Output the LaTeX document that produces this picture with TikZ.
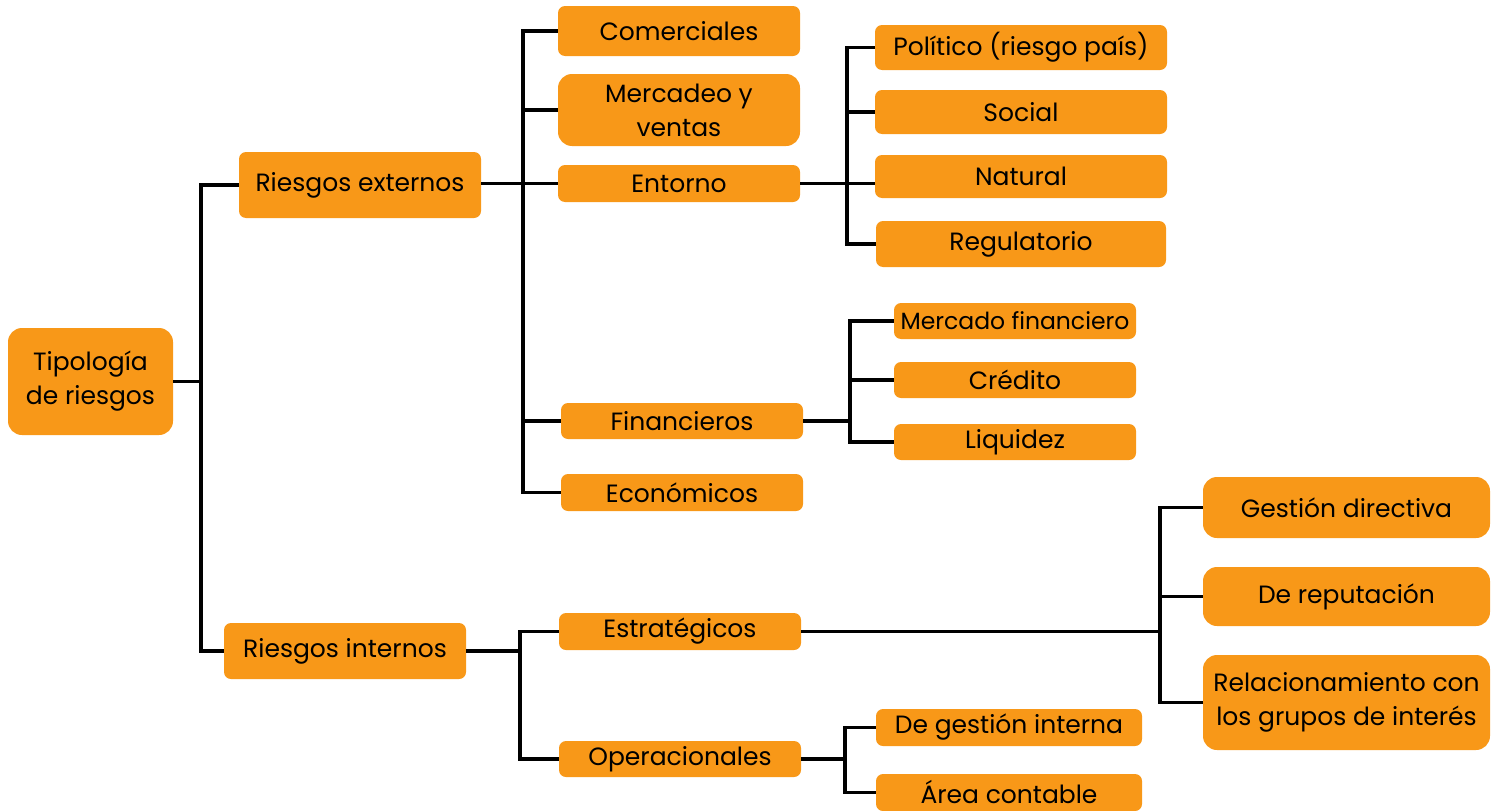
\documentclass[tikz,border=0pt]{standalone}
\usepackage{fontspec}
\setmainfont{Poppins}
\definecolor{boxorange}{RGB}{248,152,24}
\tikzset{
  box/.style={fill=boxorange, rounded corners=7pt, inner sep=0pt, align=center,
    font=\fontsize{25}{34}\selectfont, text=black},
  bigbox/.style={box, rounded corners=14pt},
  conn/.style={draw=black, line width=3.4pt}
}
\newcommand{\bx}[6][box]{\node[#1, minimum width=#4pt, minimum height=#5pt] (#2) at (#3) {#6};}
\begin{document}
\begin{tikzpicture}[x=1pt,y=-1pt]
\useasboundingbox (0,0) rectangle (1497,811);
% level 0-1
\bx[bigbox]{tip}{90.5,381.5}{165}{107}{Tipología\\de riesgos}
\bx{rext}{360,185}{242}{66}{Riesgos externos}
\bx{rint}{345,651}{242}{56}{Riesgos internos}
% level 2 externos
\bx{com}{679,31}{242}{50}{Comerciales}
\bx[bigbox]{mer}{679,110}{242}{72}{Mercadeo y\\ventas}
\bx{ent}{679,183.5}{242}{37}{Entorno}
\bx{fin}{682,421}{242}{36}{Financieros}
\bx{eco}{682,492.5}{242}{37}{Económicos}
% entorno
\bx{pol}{1021,47.5}{292}{45}{Político (riesgo país)}
\bx{soc}{1021,112}{292}{44}{Social}
\bx{nat}{1021,176.5}{292}{43}{Natural}
\bx{reg}{1021,244}{290}{46}{Regulatorio}
% financieros
\bx[box, font=\fontsize{23.5}{30}\selectfont]{mfi}{1015,321}{242}{36}{Mercado financiero}
\bx{cre}{1015,380}{242}{36}{Crédito}
\bx{liq}{1015,442}{242}{36}{Liquidez}
% internos
\bx{est}{680,631.5}{242}{37}{Estratégicos}
\bx{ope}{680,759}{242}{36}{Operacionales}
\bx[bigbox]{ges}{1346.5,507.5}{287}{61}{Gestión directiva}
\bx[bigbox]{rep}{1346.5,596.5}{287}{59}{De reputación}
\bx[bigbox]{rel}{1346.5,702.5}{287}{95}{Relacionamiento con\\los grupos de interés}
\bx{gin}{1009,727.5}{266}{37}{De gestión interna}
\bx{are}{1009,792.5}{266}{37}{Área contable}
% buses
\coordinate (b1) at (201,0);
\coordinate (b2) at (523,0);
\coordinate (b3) at (847,0);
\coordinate (b4) at (850,0);
\coordinate (b5) at (520,0);
\coordinate (b6) at (1160,0);
\coordinate (b7) at (845,0);
% connectors
\draw[conn] (tip.east) -- (tip.east -| b1);
\draw[conn] (rext.west) -| (b1 |- rint.west) -- (rint.west);
\draw[conn] (rext.east |- ent.west) -- (ent.west);
\draw[conn] (com.west) -| (b2 |- eco.west) -- (eco.west);
\draw[conn] (b2 |- mer.west) -- (mer.west);
\draw[conn] (b2 |- fin.west) -- (fin.west);
\draw[conn] (ent.east) -- (nat.west |- ent.east);
\draw[conn] (pol.west) -| (b3 |- reg.west) -- (reg.west);
\draw[conn] (b3 |- soc.west) -- (soc.west);
\draw[conn] (fin.east) -- (fin.east -| b4);
\draw[conn] (mfi.west) -| (b4 |- liq.west) -- (liq.west);
\draw[conn] (b4 |- cre.west) -- (cre.west);
\draw[conn] (rint.east) -- (b5 |- rint.east);
\draw[conn] (est.west) -| (b5 |- ope.west) -- (ope.west);
\draw[conn] (est.east) -- (est.east -| b6);
\draw[conn] (ges.west) -| (b6 |- rel.west) -- (rel.west);
\draw[conn] (b6 |- rep.west) -- (rep.west);
\draw[conn] (ope.east) -- (ope.east -| b7);
\draw[conn] (gin.west) -| (b7 |- are.west) -- (are.west);
\end{tikzpicture}
\end{document}
